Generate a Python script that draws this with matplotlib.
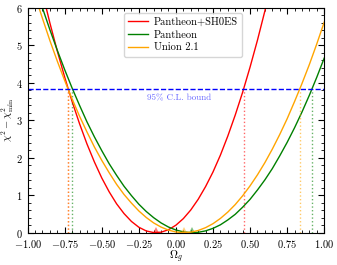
import numpy as np
import matplotlib
matplotlib.use("Agg")
import matplotlib.pyplot as plt
from matplotlib.ticker import MultipleLocator

plt.rcParams['font.family'] = ['cmr10', 'DejaVu Serif']
plt.rcParams['mathtext.fontset'] = 'cm'
plt.rcParams['axes.formatter.use_mathtext'] = True

# Omega_g grid and Delta chi^2
omega = np.round(np.arange(-1.0, 1.0001, 0.05), 2)

chi_shoes = [8.20, 7.28, 6.41, 5.60, 4.85, 4.15, 3.50, 2.91, 2.37, 1.89,
             1.46, 1.09, 0.77, 0.51, 0.30, 0.145, 0.046, 0.0025, 0.013, 0.079,
             0.20, 0.375, 0.605, 0.89, 1.23, 1.62, 2.07, 2.58, 3.14, 3.75,
             4.42, 5.14, 5.92, 6.75, 7.64, 8.58, 9.58, 10.63, 11.74, 12.90, 14.12]
chi_pantheon = [7.25, 6.61, 6.00, 5.42, 4.87, 4.35, 3.86, 3.40, 2.96, 2.56,
                2.19, 1.84, 1.53, 1.24, 0.99, 0.76, 0.565, 0.40, 0.26, 0.15,
                0.071, 0.021, 0.0006, 0.0094, 0.048, 0.115, 0.21, 0.34, 0.49, 0.68,
                0.89, 1.14, 1.41, 1.71, 2.05, 2.41, 2.80, 3.22, 3.67, 4.15, 4.66]
chi_union = [6.98, 6.33, 5.72, 5.13, 4.58, 4.06, 3.57, 3.11, 2.69, 2.29,
             1.93, 1.60, 1.29, 1.02, 0.79, 0.58, 0.405, 0.26, 0.149, 0.068,
             0.018, 0.0001, 0.013, 0.058, 0.134, 0.24, 0.38, 0.55, 0.75, 0.985,
             1.25, 1.545, 1.87, 2.23, 2.62, 3.04, 3.50, 3.98, 4.49, 5.04, 5.62]

labels = ['Pantheon+SH0ES', 'Pantheon', 'Union 2.1']
colors = ['red', 'green', 'orange']
best_fit = [-0.135, 0.110, 0.054]
bounds = [(-0.725, 0.459), (-0.699, 0.917), (-0.727, 0.838)]
cl95 = 3.84

fig = plt.figure(figsize=(3.37, 2.65), dpi=100)
ax = fig.add_axes([0.082, 0.122, 0.88, 0.848])

for chi, lab, c, bf, bd in zip([chi_shoes, chi_pantheon, chi_union],
                               labels, colors, best_fit, bounds):
    ax.plot(omega, chi, color=c, lw=1.0, label=lab)
    ax.plot([bf], [0], marker='^', color=c, alpha=0.5, ms=9, mew=0)
    for b in bd:
        ax.plot([b, b], [0, cl95], color=c, ls=':', lw=1.0, alpha=0.6)

ax.axhline(cl95, color='#0000ff', ls='--', lw=1.0)
ax.text(0.02, 3.6, '95% C.L. bound', color='#0000ff', alpha=0.6, fontsize=6.5,
        ha='center', va='center')

ax.set_xlim(-1, 1)
ax.set_ylim(0, 6)
ax.set_xlabel(r'$\Omega_g$', fontsize=8)
ax.set_ylabel(r'$\chi^2 - \chi^2_{\rm min}$', fontsize=7.6)
ax.xaxis.set_label_coords(0.5, -0.072)
ax.yaxis.set_label_coords(-0.039, 0.5)
ax.xaxis.set_major_locator(MultipleLocator(0.25))
ax.xaxis.set_minor_locator(MultipleLocator(0.05))
ax.yaxis.set_major_locator(MultipleLocator(1))
ax.yaxis.set_minor_locator(MultipleLocator(0.2))
ax.tick_params(which='both', direction='in', top=True, right=True, labelsize=7.5)
ax.tick_params(which='major', length=4)
ax.tick_params(which='minor', length=2)

leg = ax.legend(loc='upper left', bbox_to_anchor=(0.315, 0.99), fontsize=7.6,
                frameon=True, fancybox=True, handlelength=1.85,
                handletextpad=0.55, labelspacing=0.3, borderaxespad=0.3)
leg.get_frame().set_edgecolor('0.8')

fig.savefig('out.png', dpi=100)
